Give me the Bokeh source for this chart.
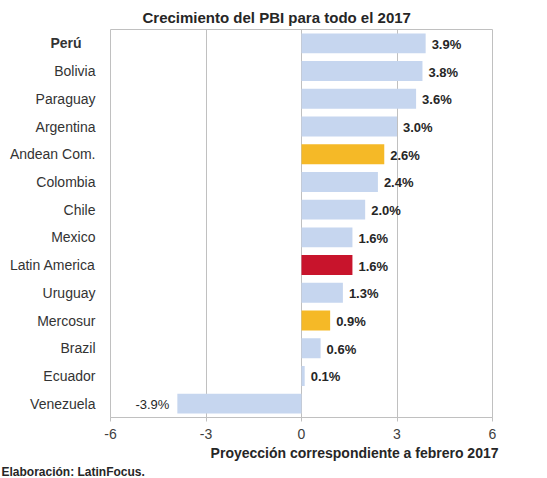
from bokeh.plotting import figure
from bokeh.models import (ColumnDataSource, LabelSet, FixedTicker, Range1d, FactorRange,
                          LinearAxis, Title)
from bokeh.core.properties import value
from bokeh.embed import file_html
from bokeh.resources import INLINE

# ---- data ----
countries = ["Perú", "Bolivia", "Paraguay", "Argentina", "Andean Com.", "Colombia",
             "Chile", "Mexico", "Latin America", "Uruguay", "Mercosur", "Brazil",
             "Ecuador", "Venezuela"]
growth = [3.9, 3.8, 3.6, 3.0, 2.6, 2.4, 2.0, 1.6, 1.6, 1.3, 0.9, 0.6, 0.1, -3.9]
groups = ["country", "country", "country", "country", "bloc", "country",
          "country", "country", "region", "country", "bloc", "country",
          "country", "country"]
highlight = "Perú"
x_ticks = [-6, -3, 0, 3, 6]
title_text = "Crecimiento del PBI para todo el 2017"
source_note = "Elaboración: LatinFocus."
projection_note = "Proyección correspondiente a febrero 2017"

# ---- styles ----
FONT = "Liberation Sans"
palette = {"country": "#c6d6ef", "bloc": "#f5b927", "region": "#c8142c"}
x_min, x_max = x_ticks[0], x_ticks[-1]
factors = countries[::-1]
# synthetic coordinate of each factor's centre on the categorical range
centre = {c: factors.index(c) + 0.5 for c in countries}

src = ColumnDataSource(dict(
    country=countries,
    growth=growth,
    zero=[0] * len(countries),
    color=[palette[g] for g in groups],
    label=[f"{v:.1f}%" for v in growth],
    lab_align=["left" if v >= 0 else "right" for v in growth],
    lab_off=[6 if v >= 0 else -8 for v in growth],
    lab_style=["bold" if v >= 0 else "normal" for v in growth],
))

W, H = 547, 478
p = figure(width=W, height=H, output_backend="svg", toolbar_location=None,
           y_range=FactorRange(factors=factors, range_padding=0),
           x_range=Range1d(x_min, x_max), y_axis_type=None,
           min_border_left=110, min_border_right=55, min_border_top=29,
           min_border_bottom=60)
p.background_fill_color = "white"
p.border_fill_color = "white"
p.outline_line_color = "#c0c0c0"
p.outline_line_width = 1

p.hbar(y="country", left="zero", right="growth", height=0.72, color="color",
       line_color=None, source=src)

def name_axis(names, standoff, bold):
    ax = LinearAxis(ticker=FixedTicker(ticks=[centre[c] for c in names]))
    ax.major_label_overrides = {centre[c]: c for c in names}
    ax.axis_line_color = None
    ax.major_tick_line_color = None
    ax.minor_tick_line_color = None
    ax.major_label_standoff = standoff
    ax.major_label_text_font = FONT
    ax.major_label_text_font_size = "14px"
    ax.major_label_text_color = "#333333"
    ax.major_label_text_font_style = "bold" if bold else "normal"
    return ax

# inner axis: highlighted name in bold; outer axis: the others, pulled back
p.add_layout(name_axis([highlight], 23, True), "left")
p.add_layout(name_axis([c for c in countries if c != highlight], -54, False), "left")
p.ygrid.visible = False

p.xgrid.ticker = FixedTicker(ticks=x_ticks)
p.xgrid.grid_line_color = "#c0c0c0"
p.xgrid.grid_line_width = 1
p.xgrid.level = "underlay"

xa = p.xaxis[0]
xa.ticker = FixedTicker(ticks=x_ticks)
xa.major_label_overrides = {t: (f"-{abs(t)}" if t < 0 else str(t)) for t in x_ticks}
xa.minor_tick_line_color = None
xa.major_tick_in = 0
xa.major_tick_out = 4
xa.major_tick_line_color = "#c0c0c0"
xa.axis_line_color = "#c0c0c0"
xa.major_label_text_font = FONT
xa.major_label_text_font_size = "14px"
xa.major_label_text_color = "#404040"
xa.major_label_standoff = 7

vals = LabelSet(x="growth", y="country", text="label", source=src,
                x_offset="lab_off", y_offset=-1, text_align="lab_align",
                text_baseline="middle", text_font=value(FONT),
                text_font_size=value("13px"), text_font_style="lab_style",
                text_color="#262626")
p.add_layout(vals)

p.title = Title(text=title_text, align="left", offset=32, standoff=7,
                text_font=FONT, text_font_size="15px", text_font_style="bold",
                text_color="#262626")
p.add_layout(Title(text=projection_note, align="right", offset=-6, standoff=3,
                   text_font=FONT, text_font_size="14px", text_font_style="bold",
                   text_color="#262626"), "below")
p.add_layout(Title(text=source_note, align="left", offset=-109, standoff=0,
                   text_font=FONT, text_font_size="12px", text_font_style="bold",
                   text_color="#262626"), "below")

open("out.html", "w").write(file_html(p, INLINE))
